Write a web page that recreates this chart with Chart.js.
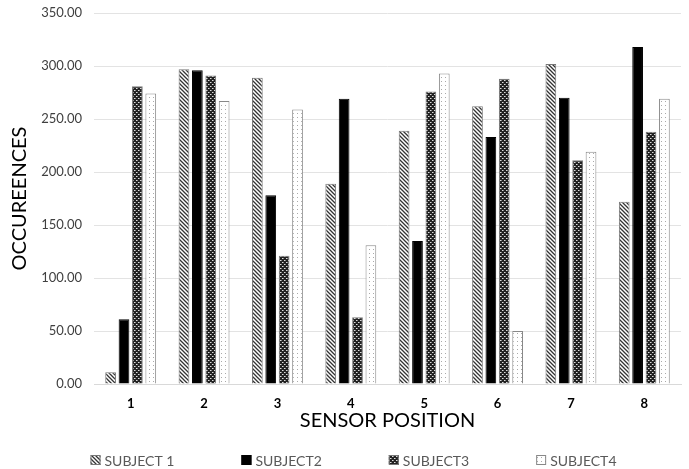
<!DOCTYPE html>
<html>
<head>
<meta charset="utf-8">
<script src="https://cdn.jsdelivr.net/npm/chart.js@4/dist/chart.umd.min.js"></script>
<style>
    html, body { margin: 0; padding: 0; background: #fff; }
</style>
</head>
<body>
<canvas id="myChart" width="689" height="469"></canvas>
<script>
const positions = ["1", "2", "3", "4", "5", "6", "7", "8"];
const subject1 = [11, 297, 289, 189, 239, 262, 302, 172];
const subject2 = [61, 296, 178, 269, 135, 233, 270, 318];
const subject3 = [281, 291, 121, 63, 276, 288, 211, 238];
const subject4 = [274, 267, 259, 131, 293, 50, 219, 269];
const seriesNames = ["SUBJECT 1", "SUBJECT2", "SUBJECT3", "SUBJECT4"];

function makePattern(size, draw) {
    const c = document.createElement("canvas");
    c.width = size;
    c.height = size;
    const p = c.getContext("2d");
    draw(p, size);
    return document.getElementById("myChart").getContext("2d").createPattern(c, "repeat");
}

// diagonal stripes
const stripes = makePattern(4, (p, s) => {
    p.fillStyle = "#fff";
    p.fillRect(0, 0, s, s);
    p.strokeStyle = "#333";
    p.lineWidth = 1.3;
    p.beginPath();
    p.moveTo(-1, -1); p.lineTo(s + 1, s + 1);
    p.moveTo(-1, s - 1); p.lineTo(1, s + 1);
    p.moveTo(s - 1, -1); p.lineTo(s + 1, 1);
    p.stroke();
});

// dark checker
const checker = makePattern(4, (p, s) => {
    p.fillStyle = "#222";
    p.fillRect(0, 0, s, s);
    p.fillStyle = "#ddd";
    p.fillRect(0, 0, 1, 1);
    p.fillRect(2, 2, 1, 1);
    p.fillStyle = "#888";
    p.fillRect(1, 0, 1, 1);
    p.fillRect(3, 2, 1, 1);
});

// sparse dots
const dots = makePattern(4, (p, s) => {
    p.fillStyle = "#fff";
    p.fillRect(0, 0, s, s);
    p.fillStyle = "#aaa";
    p.fillRect(1, 1, 1, 1);
});

const fills = [stripes, "#000", checker, dots];
const borders = ["#777", "#000", "#777", "#888"];
const values = [subject1, subject2, subject3, subject4];

const font = "Lato, 'Open Sans', sans-serif";

// legend drawn by hand, items spaced wide apart like the original
const bottomLegend = {
    id: "bottomLegend",
    afterDraw(chart) {
        const c = chart.ctx;
        const y = 460;
        const gap = 67;
        c.save();
        c.font = "14px " + font;
        c.textBaseline = "middle";
        const widths = chart.data.datasets.map((d) => 14 + c.measureText(d.label).width);
        const total = widths.reduce((a, b) => a + b, 0) + gap * (widths.length - 1);
        let x = chart.width / 2 - total / 2 + 9;
        chart.data.datasets.forEach((d, i) => {
            c.fillStyle = d.backgroundColor;
            c.fillRect(x, y - 5, 10, 10);
            c.strokeStyle = d.borderColor;
            c.lineWidth = 1;
            c.strokeRect(x + 0.5, y - 4.5, 9, 9);
            c.fillStyle = "#595959";
            c.fillText(d.label, x + 14, y + 1);
            x += widths[i] + gap;
        });
        c.restore();
    },
};

const ctx = document.getElementById("myChart").getContext("2d");
const myChart = new Chart(ctx, {
    type: "bar",
    data: {
        labels: positions,
        datasets: values.map((v, i) => ({
            label: seriesNames[i],
            data: v,
            backgroundColor: fills[i],
            borderColor: borders[i],
            borderWidth: 1,
            categoryPercentage: 0.73,
            barPercentage: 0.8,
        })),
    },
    options: {
        responsive: false,
        animation: false,
        devicePixelRatio: 1,
        layout: { padding: { top: 0, right: 8, left: 4, bottom: 37 } },
        plugins: {
            tooltip: { enabled: false },
            legend: { display: false },
        },
        scales: {
            x: {
                grid: { display: false },
                border: { color: "#d9d9d9" },
                afterFit: (s) => { s.height = 48; },
                ticks: {
                    color: "#000",
                    padding: 4,
                    font: { family: font, size: 13, weight: "bold" },
                },
                title: {
                    display: true,
                    text: "SENSOR POSITION",
                    color: "#000",
                    font: { family: font, size: 20, lineHeight: 1.1 },
                    padding: { top: 0, bottom: 0 },
                },
            },
            y: {
                min: 0,
                max: 350,
                afterFit: (s) => { s.width = 90; s.paddingTop = 13; },
                ticks: {
                    stepSize: 50,
                    color: "#404040",
                    padding: 12,
                    font: { family: font, size: 13, lineHeight: 0.5 },
                    callback: (v) => Number(v).toFixed(2),
                },
                grid: { color: "#e3e3e3", drawTicks: false },
                border: { display: false },
                title: {
                    display: true,
                    text: "OCCUREENCES",
                    color: "#000",
                    padding: { top: 4, bottom: 0 },
                    font: { family: font, size: 20 },
                },
            },
        },
    },
    plugins: [bottomLegend],
});
</script>
</body>
</html>
